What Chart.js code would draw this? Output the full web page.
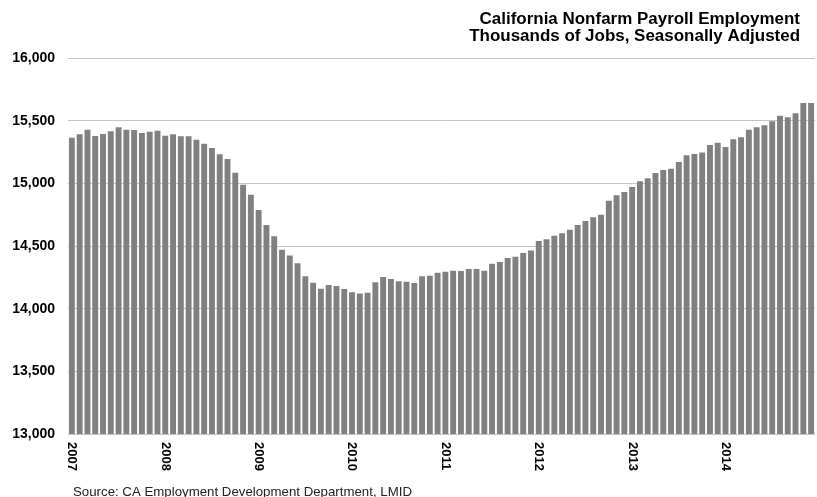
<!DOCTYPE html>
<html><head><meta charset="utf-8">
<script src="https://cdn.jsdelivr.net/npm/chart.js@4"></script>
<style>html,body{margin:0;padding:0;background:#fff}canvas{display:block}</style>
</head><body>
<canvas id="c" width="817" height="497"></canvas>
<script>
const years = ['2007','2008','2009','2010','2011','2012','2013','2014'];
const months = ['Jan','Feb','Mar','Apr','May','Jun','Jul','Aug','Sep','Oct','Nov','Dec'];
const categories = [];
years.forEach(y => months.forEach(m => categories.push(m + ' ' + y)));
const jobs2007 = [15364,15391,15428,15378,15394,15415,15447,15428,15425,15402,15412,15420];
const jobs2008 = [15380,15391,15375,15375,15348,15316,15282,15232,15194,15085,14989,14909];
const jobs2009 = [14787,14668,14577,14470,14425,14362,14258,14207,14159,14189,14181,14157];
const jobs2010 = [14130,14122,14127,14210,14252,14236,14218,14215,14205,14258,14263,14287];
const jobs2011 = [14295,14303,14300,14316,14316,14303,14359,14372,14404,14415,14444,14465];
const jobs2012 = [14540,14553,14582,14601,14630,14667,14699,14729,14750,14862,14904,14931];
const jobs2013 = [14971,15016,15040,15082,15106,15117,15170,15224,15234,15247,15306,15324];
const jobs2014 = [15290,15351,15367,15428,15447,15463,15495,15540,15527,15559,15641,15641];
const values = [].concat(jobs2007,jobs2008,jobs2009,jobs2010,jobs2011,jobs2012,jobs2013,jobs2014);
const yTicks = [13000,13500,14000,14500,15000,15500,16000];
const titleLines = ['California Nonfarm Payroll Employment','Thousands of Jobs, Seasonally Adjusted'];
const sourceText = 'Source: CA Employment Development Department, LMID';

const FONT = '"Liberation Sans", Arial, sans-serif';

function stretchedText(ctx, text, x, y, sx, align) {
  ctx.save();
  ctx.translate(x, y);
  ctx.scale(sx, 1);
  ctx.textAlign = align;
  ctx.fillText(text, 0, 0);
  ctx.restore();
}

const extras = {
  id: 'extras',
  afterDraw(chart) {
    const ctx = chart.ctx;
    const xs = chart.scales.x;
    ctx.save();
    ctx.fillStyle = '#000';
    ctx.textBaseline = 'alphabetic';
    ctx.font = 'bold 16px ' + FONT;
    stretchedText(ctx, titleLines[0], 800, 24, 1.06, 'right');
    stretchedText(ctx, titleLines[1], 800, 40.5, 1.06, 'right');
    ctx.font = '12.4px ' + FONT;
    ctx.fillStyle = '#222';
    stretchedText(ctx, sourceText, 73, 496, 1.07, 'left');
    // year labels, rotated clockwise
    ctx.font = 'bold 13px ' + FONT;
    ctx.fillStyle = '#000';
    years.forEach((y, i) => {
      const x = xs.getPixelForValue(i * 12);
      ctx.save();
      ctx.translate(x, chart.chartArea.bottom + 8);
      ctx.rotate(Math.PI / 2);
      ctx.textAlign = 'left';
      ctx.textBaseline = 'middle';
      ctx.fillText(y, 0, 0);
      ctx.restore();
    });
    ctx.restore();
  }
};

new Chart(document.getElementById('c'), {
  type: 'bar',
  data: {
    labels: categories,
    datasets: [{
      data: values,
      backgroundColor: '#808080',
      borderWidth: 0,
      barPercentage: 0.76,
      categoryPercentage: 1.0
    }]
  },
  options: {
    responsive: false,
    animation: false,
    layout: { padding: { left: 0, right: 2, top: 58, bottom: 55 } },
    plugins: { legend: { display: false }, tooltip: { enabled: false }, title: { display: false } },
    scales: {
      x: {
        offset: true,
        grid: { display: false },
        border: { display: false },
        ticks: { display: false }
      },
      y: {
        min: 13000, max: 16000,
        afterFit(s) { s.width = 68; },
        afterBuildTicks(s) { s.ticks = yTicks.map(v => ({ value: v })); },
        grid: { color: '#c4c4c4', lineWidth: 1, drawTicks: false },
        border: { display: false },
        ticks: {
          padding: 13,
          color: '#000',
          font: { family: FONT, size: 14, weight: 'bold' },
          callback: v => v.toLocaleString('en-US')
        }
      }
    }
  },
  plugins: [extras]
});
</script>
</body></html>
